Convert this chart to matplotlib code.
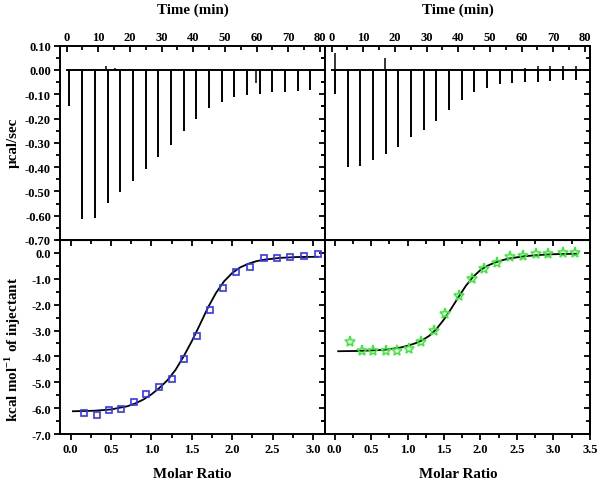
import matplotlib
matplotlib.use('Agg')
import matplotlib.pyplot as plt
from matplotlib.ticker import MultipleLocator, FormatStrFormatter

plt.rcParams['font.family'] = 'Liberation Serif'
plt.rcParams['font.weight'] = 'bold'
plt.rcParams['mathtext.fontset'] = 'custom'
plt.rcParams['mathtext.rm'] = 'Liberation Serif:bold'
plt.rcParams['mathtext.bf'] = 'Liberation Serif:bold'

# raw ITC thermograms (injection time in min, peak heat rate in ucal/sec)
inj_time_a = [0.9, 5, 9, 13, 17, 21, 25, 29, 33, 37, 41, 45, 49, 53, 57, 61, 65, 69, 73, 77]
peak_a = [-0.148, -0.614, -0.611, -0.548, -0.504, -0.456, -0.408, -0.358, -0.308, -0.25,
          -0.203, -0.155, -0.134, -0.11, -0.104, -0.097, -0.09, -0.09, -0.086, -0.082]
bump_time_a = [12.5, 15.2, 59.8]
bump_a = [0.015, 0.01, -0.055]

inj_time_b = [1.05, 5.05, 9.1, 13.1, 17.1, 21.1, 25.1, 29.1, 33.1, 37.15, 41.2, 45.1, 49.1,
              53.1, 57.1, 61.1, 65.1, 69.1, 73.1, 77.15]
peak_b = [-0.10, -0.399, -0.395, -0.371, -0.347, -0.319, -0.278, -0.248, -0.211, -0.166,
          -0.123, -0.09, -0.073, -0.059, -0.052, -0.049, -0.048, -0.045, -0.041, -0.042]
bump_time_b = [1.05, 16.9, 61.1, 65.1, 69.1, 73.1, 77.15]
bump_b = [0.07, 0.05, 0.01, 0.015, 0.015, 0.015, 0.015]

baseline_a = [0, 81.6]
baseline_b = [0, 81.6]

# integrated heats
ratio_a = [0.17, 0.33, 0.48, 0.63, 0.79, 0.94, 1.09, 1.25, 1.41, 1.57, 1.73, 1.89, 2.05,
           2.22, 2.39, 2.56, 2.72, 2.89, 3.06]
heat_a = [-6.2, -6.25, -6.07, -6.03, -5.77, -5.46, -5.19, -4.87, -4.1, -3.23, -2.19, -1.37,
          -0.72, -0.55, -0.21, -0.21, -0.14, -0.1, -0.05]
fit_x_a = [0.03, 0.3, 0.5, 0.7, 0.8, 0.9, 1.0, 1.1, 1.2, 1.3, 1.4, 1.5, 1.6, 1.7, 1.8, 1.9,
           2.0, 2.1, 2.2, 2.3, 2.4, 2.6, 2.8, 3.06]
fit_y_a = [-6.12, -6.1, -6.05, -5.93, -5.82, -5.67, -5.47, -5.22, -4.92, -4.52, -4.0, -3.42,
           -2.78, -2.12, -1.55, -1.1, -0.78, -0.56, -0.42, -0.32, -0.26, -0.19, -0.16, -0.15]

ratio_b = [0.21, 0.37, 0.53, 0.70, 0.86, 1.02, 1.19, 1.36, 1.52, 1.70, 1.88, 2.05, 2.22,
           2.40, 2.58, 2.76, 2.93, 3.13, 3.30]
heat_b = [-3.45, -3.81, -3.78, -3.81, -3.78, -3.71, -3.43, -3.0, -2.37, -1.65, -1.0, -0.62,
          -0.4, -0.14, -0.13, -0.06, -0.04, 0.0, -0.01]
fit_x_b = [0.05, 0.3, 0.5, 0.7, 0.9, 1.0, 1.1, 1.2, 1.3, 1.4, 1.5, 1.6, 1.7, 1.8, 1.9, 2.0,
           2.1, 2.2, 2.3, 2.4, 2.6, 2.8, 3.0, 3.33]
fit_y_b = [-3.8, -3.79, -3.77, -3.74, -3.66, -3.59, -3.5, -3.38, -3.2, -2.93, -2.57, -2.15,
           -1.7, -1.27, -0.92, -0.66, -0.49, -0.37, -0.28, -0.21, -0.13, -0.08, -0.05, -0.03]

fig = plt.figure(figsize=(6, 4.81), dpi=100)
L, M, R = 0.1, 0.5417, 0.9833
B, C, T = 0.0956, 0.499, 0.903
ax_ta = fig.add_axes([L, C, M - L, T - C])
ax_tb = fig.add_axes([M, C, R - M, T - C])
ax_ba = fig.add_axes([L, B, M - L, C - B])
ax_bb = fig.add_axes([M, B, R - M, C - B])

TW = 1.3


def set_lengths(a):
    a.tick_params(which='major', length=4.5)
    a.tick_params(which='minor', length=3)


def style(ax, xmaj, xmin, ymaj, ymin, top_panel, show_y):
    for s in ax.spines.values():
        s.set_linewidth(1.4)
    ax.xaxis.set_major_locator(MultipleLocator(xmaj))
    ax.xaxis.set_minor_locator(MultipleLocator(xmin))
    ax.yaxis.set_major_locator(MultipleLocator(ymaj))
    ax.yaxis.set_minor_locator(MultipleLocator(ymin))
    ax.tick_params(which='both', direction='out', width=TW, labelsize=9, pad=2)
    set_lengths(ax)
    ax.tick_params(axis='y', right=False, labelleft=show_y, left=show_y)
    # inward ticks on right side
    sy = ax.secondary_yaxis('right')
    sy.yaxis.set_major_locator(MultipleLocator(ymaj))
    sy.yaxis.set_minor_locator(MultipleLocator(ymin))
    sy.tick_params(which='both', direction='in', width=TW, labelright=False)
    set_lengths(sy)
    sy.spines['right'].set_linewidth(1.4)
    if top_panel:
        ax.tick_params(axis='x', which='both', bottom=False, labelbottom=False,
                       top=True, labeltop=True, direction='in')
    else:
        sx = ax.secondary_xaxis('top')
        sx.xaxis.set_major_locator(MultipleLocator(xmaj))
        sx.xaxis.set_minor_locator(MultipleLocator(xmin))
        sx.tick_params(which='both', direction='in', width=TW, labeltop=False)
        set_lengths(sx)


for ax, t, p, bt, bv, span in [(ax_ta, inj_time_a, peak_a, bump_time_a, bump_a, baseline_a),
                               (ax_tb, inj_time_b, peak_b, bump_time_b, bump_b, baseline_b)]:
    ax.plot(span, [0, 0], color='black', lw=1.4)
    ax.vlines(t, p, 0, color='black', lw=1.4)
    ax.vlines(bt, 0, bv, color='black', lw=1.1)
    ax.set_xlim(-2.1, 81.6)
    ax.set_ylim(-0.70, 0.10)
    style(ax, 10, 5, 0.1, 0.05, True, ax is ax_ta)
    ax.yaxis.set_major_formatter(FormatStrFormatter('%.2f'))

ax_ba.plot(fit_x_a, fit_y_a, color='black', lw=1.3)
ax_ba.plot(ratio_a, heat_a, ls='none', marker='s', ms=5, mfc='none',
           mec='#3535ff', mew=1.2)
ax_ba.set_xlim(-0.13, 3.15)
ax_bb.plot(fit_x_b, fit_y_b, color='black', lw=1.3)
ax_bb.plot(ratio_b, heat_b, ls='none', marker='*', ms=8, mfc='none',
           mec='#33ee33', mew=1.1)
ax_bb.set_xlim(-0.13, 3.5)
for ax in (ax_ba, ax_bb):
    ax.set_ylim(-7.0, 0.5)
    style(ax, 0.5, 0.25, 1.0, 0.5, False, ax is ax_ba)
    ax.set_yticks([-7, -6, -5, -4, -3, -2, -1, 0])
    ax.xaxis.set_major_formatter(FormatStrFormatter('%.1f'))
    ax.yaxis.set_major_formatter(FormatStrFormatter('%.1f'))

fig.text(193 / 600, 1 - 10 / 481, 'Time (min)', ha='center', va='center', fontsize=10.8)
fig.text(458 / 600, 1 - 10 / 481, 'Time (min)', ha='center', va='center', fontsize=10.8)
fig.text(192 / 600, 1 - 475 / 481, 'Molar Ratio', ha='center', va='center', fontsize=10.8)
fig.text(458 / 600, 1 - 475 / 481, 'Molar Ratio', ha='center', va='center', fontsize=10.8)
fig.text(13 / 600, 1 - 143 / 481, 'µcal/sec', ha='center', va='center', rotation=90,
         fontsize=10.8)
fig.text(13 / 600, 1 - 349 / 481, r'kcal mol$^{\mathbf{-1}}$ of injectant', ha='center',
         va='center', rotation=90, fontsize=10.8)

fig.savefig('out.png', dpi=100)
